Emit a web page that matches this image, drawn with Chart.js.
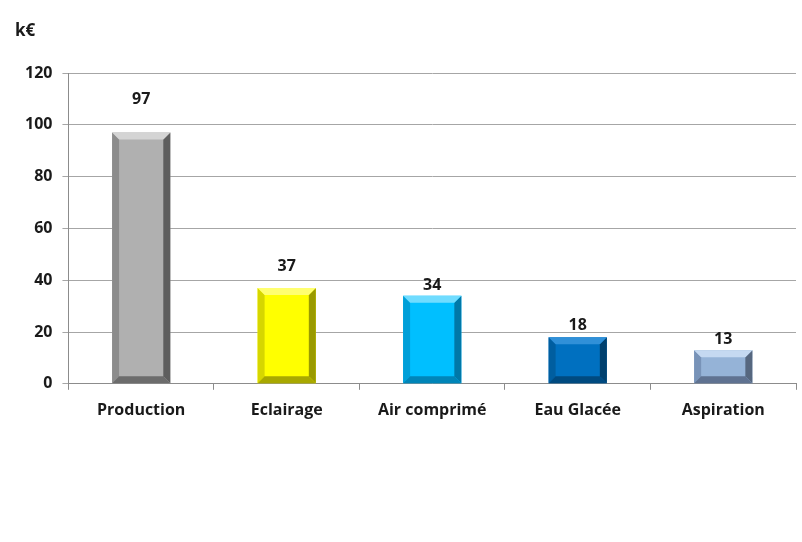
<!DOCTYPE html>
<html>
<head>
<meta charset="utf-8">
<script src="https://cdn.jsdelivr.net/npm/chart.js"></script>
<style>
  html, body { margin: 0; padding: 0; background: #ffffff; }
  #wrap { width: 802px; height: 542px; position: relative; }
</style>
</head>
<body>
<div id="wrap"><canvas id="c" width="802" height="542"></canvas></div>
<script>
// ---- Data ----
const categories = ['Production', 'Eclairage', 'Air comprimé', 'Eau Glacée', 'Aspiration'];
const values = [97, 37, 34, 18, 13];
const yTicks = [0, 20, 40, 60, 80, 100, 120];
const unitLabel = 'k€';

// ---- Styles (face, top, left, right, bottom) ----
const faceColors   = ['#b0b0b0', '#ffff00', '#00bfff', '#0070c0', '#95b3d7'];
const topColors    = ['#d4d4d4', '#ffff70', '#70dcff', '#3090d8', '#c5d9f1'];
const leftColors   = ['#8c8c8c', '#d6d600', '#009fd8', '#005ea0', '#7893b8'];
const rightColors  = ['#5e5e5e', '#9a9a00', '#0078a8', '#00406e', '#56677f'];
const bottomColors = ['#6c6c6c', '#a8a800', '#0085b8', '#004a80', '#5f7291'];
const labelLift    = [33, 22, 10, 12, 11];

const FONT = '"Open Sans", "Liberation Sans", sans-serif';

const bevelPlugin = {
  id: 'bevel',
  afterDatasetsDraw(chart) {
    const ctx = chart.ctx;
    const meta = chart.getDatasetMeta(0);
    meta.data.forEach((bar, i) => {
      const L = bar.x - bar.width / 2, R = bar.x + bar.width / 2;
      const T = Math.min(bar.y, bar.base), B = Math.max(bar.y, bar.base);
      const b = Math.min(7, (B - T) / 3);
      const poly = (pts, col) => {
        ctx.beginPath();
        ctx.moveTo(pts[0][0], pts[0][1]);
        for (let k = 1; k < pts.length; k++) ctx.lineTo(pts[k][0], pts[k][1]);
        ctx.closePath();
        ctx.fillStyle = col;
        ctx.fill();
      };
      ctx.save();
      poly([[L, T], [L + b, T + b], [L + b, B - b], [L, B]], leftColors[i]);
      poly([[R, T], [R, B], [R - b, B - b], [R - b, T + b]], rightColors[i]);
      poly([[L, B], [R, B], [R - b, B - b], [L + b, B - b]], bottomColors[i]);
      poly([[L, T], [R, T], [R - b, T + b], [L + b, T + b]], topColors[i]);
      // value label
      ctx.fillStyle = '#1a1a1a';
      ctx.font = 'bold 16px ' + FONT;
      ctx.textAlign = 'center';
      ctx.textBaseline = 'middle';
      ctx.fillText(String(values[i]), bar.x, T - labelLift[i]);
      ctx.restore();
    });
  }
};

const unitPlugin = {
  id: 'unit',
  afterDraw(chart) {
    const ctx = chart.ctx;
    ctx.save();
    ctx.fillStyle = '#1a1a1a';
    ctx.font = 'bold 17px ' + FONT;
    ctx.textAlign = 'left';
    ctx.textBaseline = 'middle';
    ctx.fillText(unitLabel, 15, 31);
    ctx.restore();
  }
};

new Chart(document.getElementById('c'), {
  type: 'bar',
  data: {
    labels: categories,
    datasets: [{
      data: values,
      backgroundColor: faceColors,
      borderWidth: 0,
      categoryPercentage: 0.8,
      barPercentage: 0.5
    }]
  },
  options: {
    responsive: false,
    animation: false,
    devicePixelRatio: 1,
    layout: { padding: { top: 73, right: 6, bottom: 111, left: 15 } },
    plugins: {
      legend: { display: false },
      tooltip: { enabled: false },
      title: { display: false }
    },
    scales: {
      x: {
        grid: {
          offset: true,
          drawOnChartArea: false,
          drawTicks: true,
          tickLength: 6,
          color: '#8c8c8c'
        },
        border: { color: '#8c8c8c', width: 1 },
        ticks: {
          color: '#1a1a1a',
          font: { family: FONT, size: 16, weight: 'bold' },
          padding: 11
        }
      },
      y: {
        min: 0,
        max: 120,
        afterBuildTicks(axis) { axis.ticks = yTicks.map(v => ({ value: v })); },
        grid: {
          color: '#a6a6a6',
          tickLength: 6,
          drawTicks: true
        },
        border: { color: '#8c8c8c', width: 1 },
        ticks: {
          color: '#1a1a1a',
          font: { family: FONT, size: 16, weight: 'bold' },
          padding: 10
        }
      }
    }
  },
  plugins: [bevelPlugin, unitPlugin]
});
</script>
</body>
</html>
